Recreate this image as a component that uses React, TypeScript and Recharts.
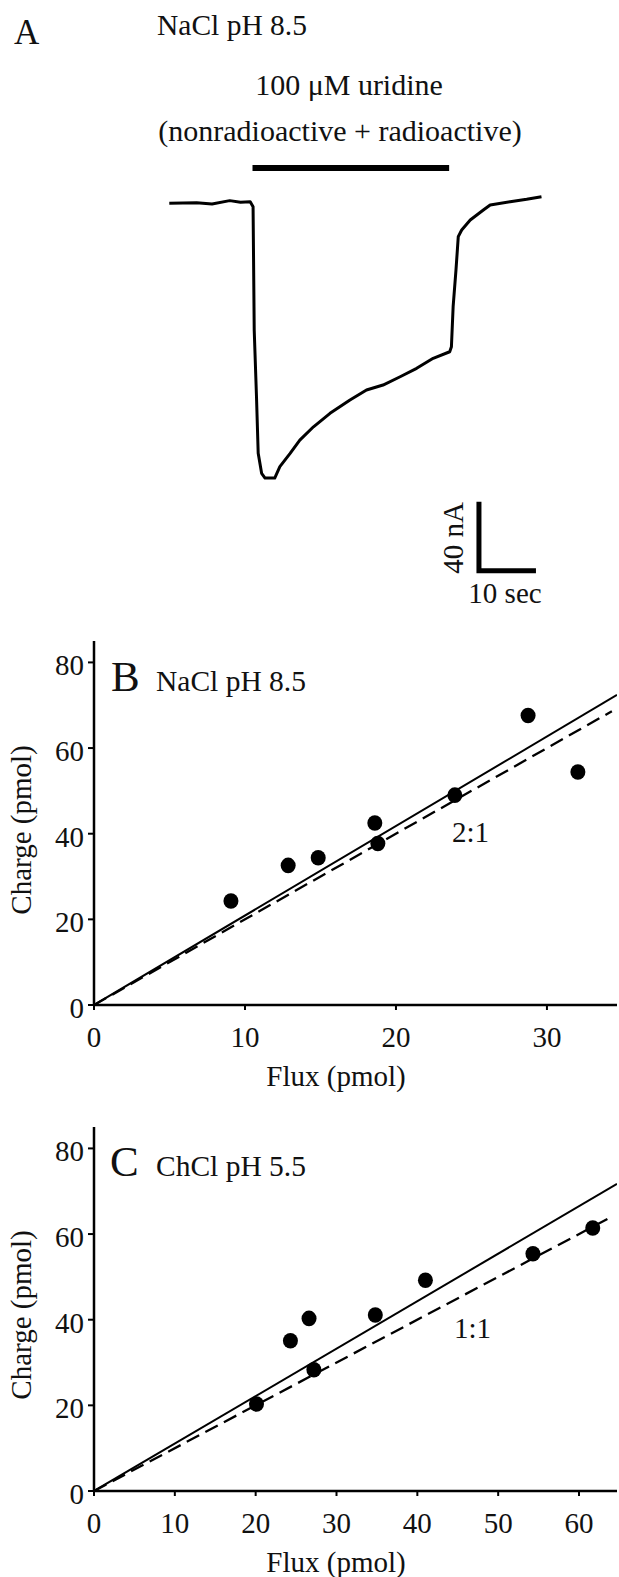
import React from "react";
import { ScatterChart, Scatter, XAxis, YAxis } from "recharts";

// ---------- Panel A: current trace (time s, current nA) ----------
const traceTime = [0, 4.8, 7.5, 10.6, 12.5, 14.2, 14.7, 14.9, 15.3, 15.6, 16.2, 16.8, 18.5, 19.4, 21.2, 22.9, 25.3, 28.2, 31.7, 34.6, 37.5, 40.5, 43.4, 46.3, 49.2, 49.5, 49.8, 50.3, 50.7, 51.3, 52.8, 55.1, 56.3, 59.8, 62.7, 65.3];
const traceCurrent = [-0.3, 0, -0.8, 1.2, 0.2, 0.6, -2.3, -73.8, -112.5, -145.3, -156.9, -159.6, -159.6, -153, -145.3, -137.6, -129.9, -122.1, -114.4, -108.6, -105.7, -100.9, -96, -90.2, -86.4, -83.5, -60.3, -39, -19.7, -15.8, -10, -4.2, -1.3, 0.6, 2, 3.5];
const appTime = [14.6, 49.1];
const appLevel = [20.1, 20.1];
const scaleTime = [54.33, 54.33, 64.33];
const scaleCurrent = [-173.3, -213.3, -213.3];

// ---------- Panel B: NaCl pH 8.5 ----------
const fluxB = [9.07, 12.86, 14.85, 18.6, 18.8, 23.9, 28.75, 32.05];
const chargeB = [24.3, 32.6, 34.4, 42.5, 37.7, 49.0, 67.6, 54.4];
const fitFluxB = [0, 34.64];
const fitChargeB = [0, 72.4];
const ratioFluxB = [0, 34.3];
const ratioChargeB = [0, 68.6];
const xTicksB = [0, 10, 20, 30];

// ---------- Panel C: ChCl pH 5.5 ----------
const fluxC = [20.1, 24.3, 26.6, 27.2, 34.8, 41.0, 54.3, 61.7];
const chargeC = [20.3, 35.1, 40.3, 28.3, 41.1, 49.2, 55.4, 61.4];
const fitFluxC = [0, 64.7];
const fitChargeC = [0, 71.7];
const ratioFluxC = [0, 63.9];
const ratioChargeC = [0, 63.9];
const xTicksC = [0, 10, 20, 30, 40, 50, 60];

const yTicks = [0, 20, 40, 60, 80];

const zip = (xs: number[], ys: number[], kx: string, ky: string) =>
  xs.map((v, i) => ({ [kx]: v, [ky]: ys[i] }));

const FONT = "'Liberation Serif', 'Times New Roman', serif";
const NoShape = () => <g />;
const Dot = (p: any) => <ellipse cx={p.cx} cy={p.cy} rx={7.5} ry={7.8} fill="#000" />;

const XTick = (p: any) => (
  <text x={p.x} y={p.y + 37} textAnchor="middle" fontFamily={FONT} fontSize={29} fill="#111">
    {p.payload.value}
  </text>
);
const YTick = (p: any) => (
  <text x={p.x} y={p.y + 13} textAnchor="end" fontFamily={FONT} fontSize={29} fill="#111">
    {p.payload.value}
  </text>
);

const axisLine = { stroke: "#000", strokeWidth: 2.5 };
const tickLine = { stroke: "#000", strokeWidth: 2 };

function Panel({ top, xMax, xTicks, pts, fit, ratio }: any) {
  return (
    <div style={{ position: "absolute", left: 0, top }}>
      <ScatterChart width={619} height={510} margin={{ top: 41, right: 2, bottom: 0, left: 0 }}>
        <XAxis type="number" dataKey="flux" domain={[0, xMax]} ticks={xTicks} allowDataOverflow
          height={105} tickSize={5} tickMargin={0} axisLine={axisLine} tickLine={tickLine} tick={<XTick />} interval={0} />
        <XAxis xAxisId="top" orientation="top" type="number" dataKey="flux" domain={[0, xMax]} height={0}
          tick={false} tickLine={false} axisLine={axisLine} />
        <YAxis type="number" dataKey="charge" domain={[0, 85]} ticks={yTicks} allowDataOverflow width={94}
          tickSize={6} tickMargin={4} axisLine={axisLine} tickLine={tickLine} tick={<YTick />} interval={0} />
        <YAxis yAxisId="right" orientation="right" type="number" dataKey="charge" domain={[0, 85]} width={0}
          tick={false} tickLine={false} axisLine={axisLine} />
        <Scatter data={fit} isAnimationActive={false} shape={NoShape}
          line={{ stroke: "#000", strokeWidth: 2 }} />
        <Scatter data={ratio} isAnimationActive={false} shape={NoShape}
          line={{ stroke: "#000", strokeWidth: 2.3, strokeDasharray: "14 7" }} />
        <Scatter data={pts} isAnimationActive={false} shape={Dot} />
      </ScatterChart>
    </div>
  );
}

export default function App() {
  const trace = zip(traceTime, traceCurrent, "t", "I");
  const app = zip(appTime, appLevel, "t", "I");
  const scale = zip(scaleTime, scaleCurrent, "t", "I");
  return (
    <div style={{ position: "relative", width: 619, height: 1577, background: "#fff", fontFamily: FONT }}>
      <style>{"body{margin:0}"}</style>
      <div style={{ position: "absolute", left: 0, top: 0 }}>
        <ScatterChart width={619} height={620} margin={{ top: 0, right: 0, bottom: 0, left: 0 }}>
          <XAxis type="number" dataKey="t" hide domain={[-29.7, 78.9]} allowDataOverflow />
          <YAxis type="number" dataKey="I" hide domain={[-241.9, 117.5]} allowDataOverflow />
          <Scatter data={trace} isAnimationActive={false} shape={NoShape}
            line={{ stroke: "#000", strokeWidth: 3, strokeLinejoin: "round" }} />
          <Scatter data={app} isAnimationActive={false} shape={NoShape}
            line={{ stroke: "#000", strokeWidth: 6 }} />
          <Scatter data={scale} isAnimationActive={false} shape={NoShape}
            line={{ stroke: "#000", strokeWidth: 5, strokeLinejoin: "miter" }} />
        </ScatterChart>
      </div>
      <Panel top={600} xMax={34.64} xTicks={xTicksB}
        pts={zip(fluxB, chargeB, "flux", "charge")}
        fit={zip(fitFluxB, fitChargeB, "flux", "charge")}
        ratio={zip(ratioFluxB, ratioChargeB, "flux", "charge")} />
      <Panel top={1086} xMax={64.7} xTicks={xTicksC}
        pts={zip(fluxC, chargeC, "flux", "charge")}
        fit={zip(fitFluxC, fitChargeC, "flux", "charge")}
        ratio={zip(ratioFluxC, ratioChargeC, "flux", "charge")} />
      <svg width={619} height={1577} style={{ position: "absolute", left: 0, top: 0, pointerEvents: "none" }}
        fontFamily={FONT} fill="#111">
        <text x={14} y={44} fontSize={35}>A</text>
        <text x={157} y={35} fontSize={29.5}>NaCl pH 8.5</text>
        <text x={349} y={95} fontSize={30} textAnchor="middle">100 μM uridine</text>
        <text x={340} y={141} fontSize={30} textAnchor="middle">(nonradioactive + radioactive)</text>
        <text x={463} y={538} fontSize={29} textAnchor="middle" transform="rotate(-90 463 538)">40 nA</text>
        <text x={505} y={603} fontSize={29} textAnchor="middle">10 sec</text>

        <text x={111} y={691} fontSize={43}>B</text>
        <text x={156} y={691} fontSize={29.5}>NaCl pH 8.5</text>
        <text x={452} y={842} fontSize={29}>2:1</text>
        <text x={31} y={830} fontSize={29} textAnchor="middle" transform="rotate(-90 31 830)">Charge (pmol)</text>
        <text x={336} y={1086} fontSize={29} textAnchor="middle">Flux (pmol)</text>

        <text x={110} y={1176} fontSize={43}>C</text>
        <text x={156} y={1176} fontSize={29.5}>ChCl pH 5.5</text>
        <text x={454} y={1338} fontSize={29}>1:1</text>
        <text x={31} y={1315} fontSize={29} textAnchor="middle" transform="rotate(-90 31 1315)">Charge (pmol)</text>
        <text x={336} y={1572} fontSize={29} textAnchor="middle">Flux (pmol)</text>
      </svg>
    </div>
  );
}
